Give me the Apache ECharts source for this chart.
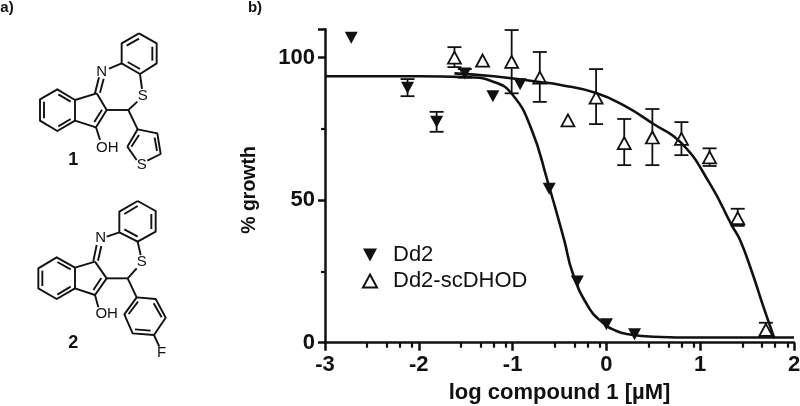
<!DOCTYPE html>
<html><head><meta charset="utf-8">
<style>html,body{margin:0;padding:0;background:#fff}#c{width:800px;height:406px}</style>
<script src="https://cdn.jsdelivr.net/npm/echarts@6/dist/echarts.min.js"></script>
</head><body><div id="c"></div>
<script>
const xTickLabels = [-3,-2,-1,0,1,2];
const xMinorTicks = [-2.55,-2.34,-2.2,-2.07,-1.55,-1.34,-1.2,-1.07,-0.55,-0.34,-0.2,-0.07,0.45,0.66,0.8,0.93,1.45,1.66,1.8,1.93];
const yTickLabels = [0,50,100];

const dd2X  = [-2.72,-2.12,-1.81,-1.51,-1.21,-0.92,-0.61,-0.31,0,0.3];
const dd2Y  = [107,89.5,77.5,94.5,86.5,90.7,54,21.5,6.5,3];
const dd2Hi = [null,92.5,81,96,null,null,null,null,null,null];
const dd2Lo = [null,86.5,74,93,null,null,null,null,null,null];

const scX  = [-1.62,-1.32,-1.01,-0.71,-0.41,-0.11,0.19,0.49,0.8,1.1,1.4,1.7];
const scY  = [100,99,98.5,93,78,86,70,72,71.5,65,43.7,4.5];
const scHi = [103.7,null,109.7,102,null,96,78.5,82,77.4,68.2,47,7];
const scLo = [96.7,null,87.5,84.5,null,76.7,62.3,62.3,65.8,62,41,2];

const dd2CurveX = [-3,-2,-1.5,-1.2,-1,-0.8,-0.63,-0.45,-0.36,-0.2,-0.05,0.1,0.25,0.5,1,2];
const dd2CurveY = [93.5,93.5,93.2,91.5,87,75,57,36,24.5,13,7.3,4.2,2.9,2.1,1.8,1.8];
const scCurveX  = [-1.62,-1.2,-0.71,-0.5,-0.11,0.2,0.49,0.8,1.1,1.34,1.425,1.55,1.66,1.79];
const scCurveY  = [94.5,93.5,91.5,90.5,87.6,83,77,70,56,41,36,25,14,1.6];

const INK = '#111';
const FONT = '"Liberation Sans", Arial, sans-serif';
const zip = (a,b) => a.map((v,i)=>[v,b[i]]);
const errData = (x,hi,lo) => x.map((v,i)=>[v,hi[i],lo[i]]).filter(d=>d[1]!==null);

function errSeries(data){
  return {type:'custom',silent:true,z:1,data,encode:{x:0,y:[1,2]},
    renderItem(p,api){
      const a=api.coord([api.value(0),api.value(1)]), b=api.coord([api.value(0),api.value(2)]), w=7;
      const st={stroke:INK,lineWidth:1.8,fill:null};
      return {type:'group',children:[
        {type:'line',shape:{x1:a[0],y1:a[1],x2:b[0],y2:b[1]},style:st},
        {type:'line',shape:{x1:a[0]-w,y1:a[1],x2:a[0]+w,y2:a[1]},style:st},
        {type:'line',shape:{x1:b[0]-w,y1:b[1],x2:b[0]+w,y2:b[1]},style:st}]};
    }};
}

// Structural formulae: bonds in the 3x zoomed drawing frame
const mol1 = [
 [[417,100],[470,130],[470,190],[420,222],[365,190],[365,130],[417,100]],
 [[380,137],[417,116]],[[457,140],[457,182]],[[420,207],[383,186]],
 [[365,190],[327,206]],[[297,232],[285,280]],[[311,236],[300,278]],
 [[420,222],[426,267]],[[412,305],[385,330]],[[385,330],[320,330]],
 [[290,280],[225,300],[225,362],[288,382],[320,330],[290,280]],[[283,366],[306,329]],
 [[225,300],[172,268],[120,298],[120,362],[172,393],[225,362]],
 [[175,283],[212,305]],[[132,305],[132,355]],[[175,379],[212,357]],
 [[288,382],[300,420]],[[385,330],[413,388]],
 [[382,440],[413,388],[472,400],[482,462],[442,482]],[[382,440],[410,480]],
 [[464,413],[471,453]],[[417,405],[394,440]]
];
const mol2 = [
 [[413,3],[467,33],[467,95],[413,125],[358,97],[358,35],[413,3]],
 [[373,42],[413,18]],[[454,42],[454,87]],[[413,110],[373,88]],
 [[358,97],[320,110]],[[290,135],[280,183]],[[304,138],[294,182]],
 [[413,125],[422,165]],[[410,205],[383,235]],[[383,235],[320,235]],
 [[285,185],[225,203],[225,265],[285,285],[320,235],[285,185]],[[280,270],[304,234]],
 [[225,203],[170,172],[115,205],[115,265],[170,297],[225,265]],
 [[172,186],[212,208]],[[127,212],[127,258]],[[172,284],[212,260]],
 [[285,285],[295,322]],[[383,235],[410,292]],
 [[410,292],[467,297],[497,353],[462,405],[398,400],[373,343],[410,292]],
 [[461,310],[485,352]],[[452,392],[405,388]],[[386,342],[414,305]],
 [[462,405],[478,440]]
];
const molLabels = [
 ['N',305,215,15,false,0],['S',428,287,15,false,0],['OH',322,443,15,false,0],['S',425,495,15,false,0],['1',220,480,18,true,0],
 ['N',302,115,15,false,200],['S',425,185,15,false,200],['OH',320,342,15,false,200],['F',485,458,15,false,200],['2',220,428,18,true,200]
];
const mk = (m,dy)=>m.map(pts=>({type:'polyline',silent:true,
  shape:{points:pts.map(p=>[p[0]/3,p[1]/3+dy])},
  style:{stroke:INK,lineWidth:1.9,fill:null,lineJoin:'round'}}));
const txt = (s,x,y,size,bold)=>({type:'text',silent:true,x,y,
  style:{text:s,font:(bold?'bold ':'')+size+'px '+FONT,fill:INK,align:'center',verticalAlign:'middle'}});

const growth = txt('% growth',250,190,19.5,true);
growth.rotation = Math.PI/2;
const graphic = [
  ...mk(mol1,0),...mk(mol2,200),
  ...molLabels.map(l=>txt(l[0],l[1]/3,l[2]/3+l[5],l[3],l[4])),
  txt('a)',7,8,15,true),txt('b)',255,8,15,true),growth
];

const chart = echarts.init(document.getElementById('c'),null,{renderer:'canvas'});
chart.setOption({
  animation:false,backgroundColor:'#fff',textStyle:{fontFamily:FONT},
  grid:{left:325,top:29.2,width:469,height:313.5,containLabel:false,outerBoundsMode:'none'},
  legend:{left:357,top:239,orient:'vertical',itemGap:4,itemWidth:14,itemHeight:13,
    data:[{name:'Dd2',icon:'path://M0 0L12 0L6 11Z'},{name:'Dd2-scDHOD'}],
    textStyle:{fontSize:22,color:INK,fontFamily:FONT,padding:[0,0,0,11]}},
  xAxis:[{type:'value',min:-3,max:2,interval:1,position:'bottom',
      name:'log compound 1 [µM]',nameLocation:'middle',nameGap:39,
      nameTextStyle:{fontSize:22,fontWeight:'bold',color:INK},
      axisLine:{onZero:false,lineStyle:{color:INK,width:2.5}},
      axisTick:{length:8,lineStyle:{color:INK,width:2.5}},
      axisLabel:{fontSize:22,fontWeight:'bold',color:INK,margin:11,formatter:v=>xTickLabels.includes(v)?String(v):''},
      splitLine:{show:false}},
    {type:'value',min:-3,max:2,position:'bottom',
      axisLine:{show:false},axisLabel:{show:false},splitLine:{show:false},
      axisTick:{show:true,length:5,customValues:xMinorTicks,lineStyle:{color:INK,width:2.2}}}],
  yAxis:{type:'value',min:0,max:110,interval:50,
    axisLine:{show:true,onZero:false,lineStyle:{color:INK,width:2.5}},
    axisTick:{show:true,length:7,lineStyle:{color:INK,width:2.5}},
    minorTick:{show:true,splitNumber:2,length:4,lineStyle:{color:INK,width:2.2}},
    axisLabel:{fontSize:22,fontWeight:'bold',color:INK,margin:10,formatter:v=>yTickLabels.includes(v)?String(v):''},
    splitLine:{show:false}},
  graphic,
  series:[
    errSeries(errData(dd2X,dd2Hi,dd2Lo)),
    errSeries(errData(scX,scHi,scLo)),
    {name:'Dd2-scDHOD',type:'scatter',z:2,symbol:'triangle',symbolSize:[13,12],
      itemStyle:{color:'#fff',borderColor:INK,borderWidth:1.8,opacity:1},data:zip(scX,scY)},
    {name:'Dd2',type:'scatter',z:3,symbol:'triangle',symbolRotate:180,symbolSize:[13,12],
      itemStyle:{color:INK,opacity:1},data:zip(dd2X,dd2Y)},
    {type:'line',z:4,silent:true,showSymbol:false,smooth:0.5,
      lineStyle:{color:INK,width:2.6},data:zip(dd2CurveX,dd2CurveY)},
    {type:'line',z:4,silent:true,showSymbol:false,smooth:0.5,
      lineStyle:{color:INK,width:2.6},data:zip(scCurveX,scCurveY)}
  ]
});
</script></body></html>
